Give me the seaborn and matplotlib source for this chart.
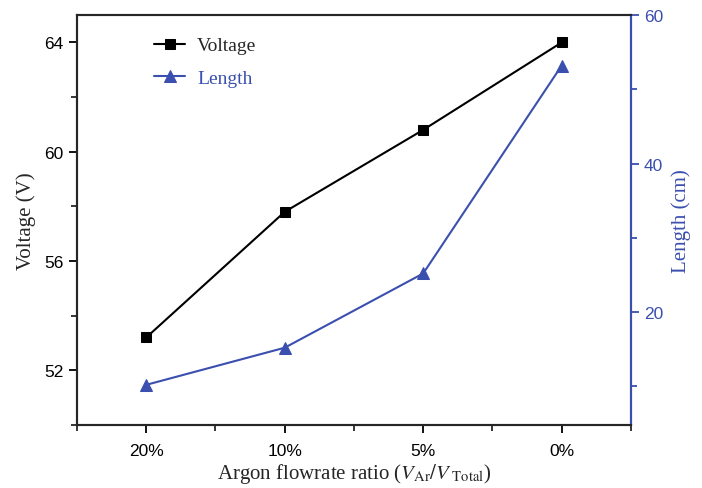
"""
Voltage and length vs argon flowrate ratio, twin y axes.
"""

import matplotlib

matplotlib.use("Agg")
import matplotlib.pyplot as plt
import seaborn as sns
from matplotlib.ticker import MultipleLocator, AutoMinorLocator

ratios = ["20%", "10%", "5%", "0%"]
voltage = [53.2, 57.8, 60.8, 64.0]
length = [10.2, 15.2, 25.2, 53.2]

BLUE = "#3b4fae"


def main():
    sns.set_style("ticks")
    plt.rcParams["mathtext.fontset"] = "stix"
    plt.rcParams["font.family"] = ["Liberation Sans", "DejaVu Sans"]

    fig = plt.figure(figsize=(7.02, 4.89), dpi=100)
    ax = fig.add_axes([0.1097, 0.129, 0.789, 0.838])
    ax2 = ax.twinx()

    sns.lineplot(x=ratios, y=voltage, sort=False, color="black", marker="s",
                 markersize=7, markeredgecolor="black", linewidth=1.5,
                 label="Voltage", ax=ax, legend=False)
    sns.lineplot(x=ratios, y=length, sort=False, color=BLUE, marker="^",
                 markersize=8, markeredgecolor=BLUE, linewidth=1.5,
                 label="Length", ax=ax2, legend=False)

    ax.set_xlim(-0.5, 3.5)
    ax.set_ylim(50, 65)
    ax2.set_ylim(4.8, 60)

    ax.yaxis.set_major_locator(MultipleLocator(4))
    ax.yaxis.set_minor_locator(AutoMinorLocator(2))
    ax2.yaxis.set_major_locator(MultipleLocator(20))
    ax2.yaxis.set_minor_locator(AutoMinorLocator(2))
    ax.xaxis.set_minor_locator(MultipleLocator(0.5))

    for a in (ax, ax2):
        for s in a.spines.values():
            s.set_linewidth(1.5)
            s.set_visible(True)
    ax2.spines["right"].set_color(BLUE)

    ax.tick_params(axis="both", which="major", direction="out", length=6,
                   width=1.3, labelsize=12.5, colors="black")
    ax.tick_params(axis="x", which="major", pad=7)
    ax.tick_params(axis="both", which="minor", direction="out", length=4,
                   width=1.3)
    ax.tick_params(axis="y", right=False)
    ax2.tick_params(axis="y", which="major", direction="out", length=6,
                    width=1.3, labelsize=12.5, colors=BLUE)
    ax2.tick_params(axis="y", which="minor", direction="out", length=4,
                    width=1.3, colors=BLUE)

    serif = ["Liberation Serif", "DejaVu Serif"]
    ax.set_ylabel("Voltage (V)", fontsize=15, family=serif, labelpad=6)
    ax2.set_ylabel("Length (cm)", fontsize=15, family=serif, color=BLUE,
                   labelpad=6)
    ax.set_xlabel(r"Argon flowrate ratio ($V_{\mathrm{Ar}}/V_{\ \mathrm{Total}}$)",
                  fontsize=15, family=serif, labelpad=2)

    h1, l1 = ax.get_legend_handles_labels()
    h2, l2 = ax2.get_legend_handles_labels()
    leg = ax.legend(h1 + h2, l1 + l2, loc="upper left",
                    bbox_to_anchor=(0.108, 0.99), frameon=False,
                    prop={"family": serif, "size": 14}, handlelength=1.6,
                    handletextpad=0.6, labelspacing=0.75)
    leg.get_texts()[1].set_color(BLUE)

    fig.savefig("out.png", dpi=100)


if __name__ == "__main__":
    main()
